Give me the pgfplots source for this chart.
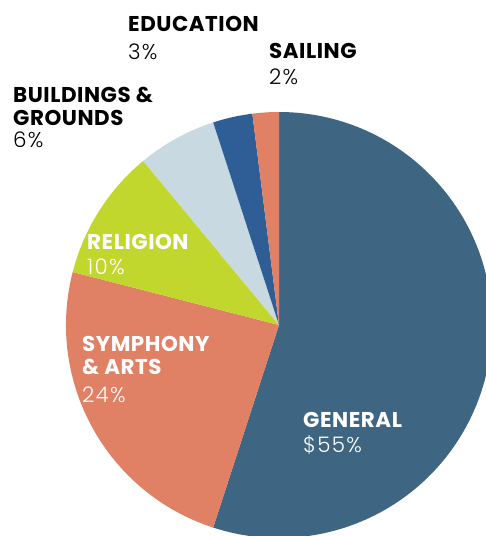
\documentclass[border=0pt]{standalone}
\usepackage{pgfplots}
\pgfplotsset{compat=1.18}
\usepackage{pgfplotstable}
\usepackage{fontspec}
\setmainfont{Poppins}
\newfontfamily\lightfont[LetterSpace=6]{Poppins Light}

\definecolor{cGeneral}{HTML}{3E6682}
\definecolor{cSalmon}{HTML}{E08064}
\definecolor{cLime}{HTML}{C2D72E}
\definecolor{cPale}{HTML}{C8D9E1}
\definecolor{cBlue}{HTML}{2F5E96}

% share of each fund, clockwise from the top
\pgfplotstableread{
name      pct colour
General   55  cGeneral
Symphony  24  cSalmon
Religion  10  cLime
Buildings 6   cPale
Education 3   cBlue
Sailing   2   cSalmon
}\piedata

\newcommand\lbl[1]{{\fontsize{21.5}{24}\bfseries\addfontfeatures{LetterSpace=2.5}#1}}
\newcommand\val[1]{{\fontsize{21.5}{24}\lightfont #1}}

\begin{document}
\begin{tikzpicture}
\begin{axis}[
    name=pie,
    width=486bp, height=536bp, scale only axis,
    hide axis,
    xmin=0, xmax=486, ymin=0, ymax=536,
    y dir=reverse,
  ]
  \def\cx{279}\def\cy{325}\def\rr{213}
  \def\startang{90}
  \pgfplotsforeachungrouped \i in {0,...,5}{%
    \pgfplotstablegetelem{\i}{pct}\of\piedata\let\slicepct\pgfplotsretval
    \pgfplotstablegetelem{\i}{colour}\of\piedata\let\slicecol\pgfplotsretval
    \pgfmathsetmacro\endang{\startang-3.6*\slicepct}%
    \edef\slice{\noexpand\fill[\slicecol] (axis cs:\cx,\cy) -- ++(\startang:\rr bp)
      arc[start angle=\startang, end angle=\endang, radius=\rr bp] -- cycle;}%
    \slice
    \let\startang\endang
  }

  \begin{scope}[every node/.style={anchor=base west, inner sep=0pt}]
    \node at (axis cs:128,32) {\lbl{EDUCATION}};
    \node at (axis cs:128,60) {\val{3\%}};
    \node at (axis cs:269,59) {\lbl{SAILING}};
    \node at (axis cs:269,85) {\val{2\%}};
    \node at (axis cs:13,102) {\lbl{BUILDINGS \&}};
    \node at (axis cs:13,125) {\lbl{GROUNDS}};
    \node at (axis cs:13,147) {\val{6\%}};
    \node[text=white] at (axis cs:87,249) {\lbl{RELIGION}};
    \node[text=white] at (axis cs:87,274) {\val{10\%}};
    \node[text=white] at (axis cs:82,351) {\lbl{SYMPHONY}};
    \node[text=white] at (axis cs:82,374) {\lbl{\& ARTS}};
    \node[text=white] at (axis cs:82,402) {\val{24\%}};
    \node[text=white] at (axis cs:303,427) {\lbl{GENERAL}};
    \node[text=white] at (axis cs:303,452) {\val{\$55\%}};
  \end{scope}
\end{axis}
\pgfresetboundingbox
\path (pie.south west) rectangle (pie.north east);
\end{tikzpicture}
\end{document}
